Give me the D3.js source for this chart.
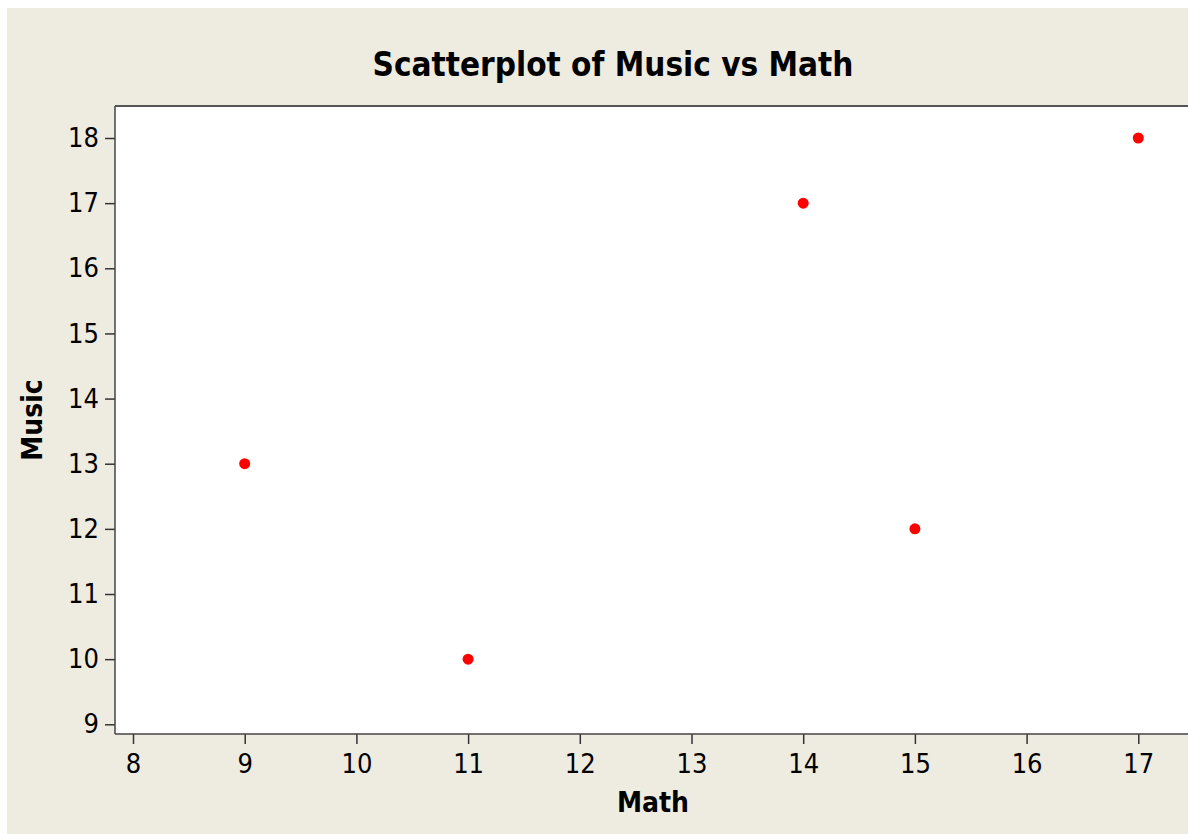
<!DOCTYPE html>
<html><head><meta charset="utf-8">
<script src="https://cdn.jsdelivr.net/npm/d3@7"></script>
<style>
html,body{margin:0;padding:0;background:#fff;overflow:hidden;}
svg{display:block;}
</style></head>
<body>
<svg id="c" width="1188" height="834"></svg>
<script>
const mathScores = [9, 11, 14, 15, 17];
const musicScores = [13, 10, 17, 12, 18];
const xTicks = [8, 9, 10, 11, 12, 13, 14, 15, 16, 17];
const yTicks = [9, 10, 11, 12, 13, 14, 15, 16, 17, 18];
const title = "Scatterplot of Music vs Math";
const xLabel = "Math";
const yLabel = "Music";

const svg = d3.select("#c");
const W = 1188, H = 834;
const font = "'DejaVu Sans Condensed','DejaVu Sans',sans-serif";

svg.append("rect").attr("x", 7).attr("y", 8).attr("width", W - 7).attr("height", H - 8).attr("fill", "#EEEBE1");

const x = d3.scaleLinear().domain([8, 17]).range([133, 1138.3]);
const y = d3.scaleLinear().domain([9, 18]).range([724.3, 138]);

const plotL = 115, plotT = 106, plotB = 734, plotR = 1200;
svg.append("rect").attr("x", plotL).attr("y", plotT).attr("width", plotR - plotL).attr("height", plotB - plotT)
  .attr("fill", "#fff");
svg.append("line").attr("x1", plotL).attr("x2", plotR).attr("y1", plotT).attr("y2", plotT)
  .attr("stroke", "#555").attr("stroke-width", 2);

const xAxis = svg.append("g").attr("transform", `translate(0,${plotB})`)
  .call(d3.axisBottom(x).tickValues(xTicks).tickSize(10).tickPadding(10).tickFormat(d3.format("d")));
const yAxis = svg.append("g").attr("transform", `translate(${plotL},0)`)
  .call(d3.axisLeft(y).tickValues(yTicks).tickSize(10).tickPadding(6).tickFormat(d3.format("d")));
[xAxis, yAxis].forEach(g => {
  g.select(".domain").remove();
  g.selectAll(".tick line").attr("stroke", "#333").attr("stroke-width", 1.5);
  g.selectAll(".tick text").attr("fill", "#000").style("font-family", font).style("font-size", "27px");
});
svg.append("line").attr("x1", plotL).attr("x2", plotL).attr("y1", plotT).attr("y2", plotB)
  .attr("stroke", "#444").attr("stroke-width", 1.5);
svg.append("line").attr("x1", plotL).attr("x2", plotR).attr("y1", plotB).attr("y2", plotB)
  .attr("stroke", "#444").attr("stroke-width", 1.5);

svg.append("g").selectAll("circle").data(mathScores).join("circle")
  .attr("cx", d => x(d)).attr("cy", (d, i) => y(musicScores[i])).attr("r", 5.5).attr("fill", "#FF0000");

svg.append("text").attr("x", 613).attr("y", 76).attr("text-anchor", "middle")
  .style("font-family", font).style("font-weight", "bold").style("font-size", "33px").text(title);
svg.append("text").attr("x", 653).attr("y", 812).attr("text-anchor", "middle")
  .style("font-family", font).style("font-weight", "bold").style("font-size", "28px").text(xLabel);
svg.append("text").attr("transform", "translate(42,420) rotate(-90)").attr("text-anchor", "middle")
  .style("font-family", font).style("font-weight", "bold").style("font-size", "28px").text(yLabel);
</script>
</body></html>
